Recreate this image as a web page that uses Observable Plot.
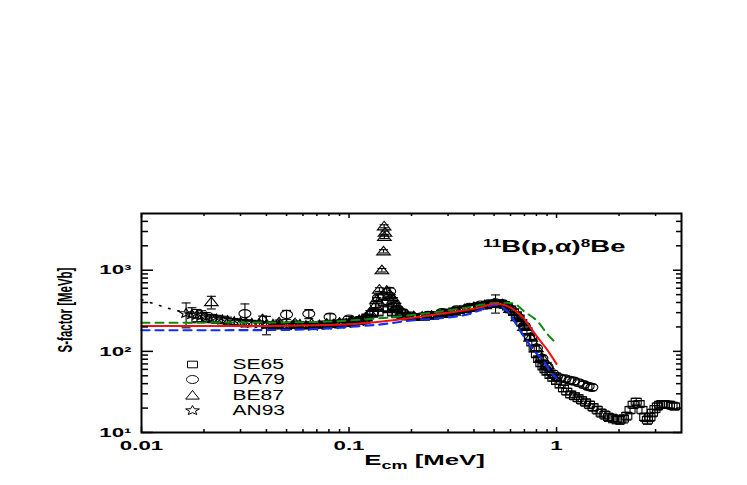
<!DOCTYPE html>
<html>
<head>
<meta charset="utf-8">
<script src="https://cdn.jsdelivr.net/npm/d3@7"></script>
<script src="https://cdn.jsdelivr.net/npm/@observablehq/plot@0.6"></script>
<style>
  html, body { margin: 0; padding: 0; background: #fff; }
  #chart { width: 747px; height: 485px; }
</style>
</head>
<body>
<div id="chart"></div>
<script>
// ---------------- DATA ----------------
const se65E = [0.040,0.045,0.050,0.056,0.062,0.068,0.075,0.082,0.090,0.098,
  0.106,0.114,0.122,0.130,0.138,0.146,0.154,0.162,0.170,0.180,0.190,0.200,
  0.215,0.230,0.245,0.260,0.280,
  0.30,0.32,0.34,0.36,0.38,0.40,0.42,0.44,0.46,0.48,0.50,0.52,0.54,0.56,0.58,0.60,0.62,0.64,0.66,0.68,0.70,0.72,0.74,0.76,0.78,0.80,0.82,0.84,0.86,0.88,0.90,
  0.93,0.96,1.00,
  1.04,1.08,1.12,1.17,1.22,1.27,1.32,1.38,1.44,1.50,
  1.57,1.64,1.71,1.78,1.86,1.94,2.02,
  2.10,2.18,2.26,2.34,2.42,2.50,2.58,2.66,2.74,2.82,2.90,2.98,3.06,3.14,3.22,3.30,
  3.40,3.50,3.60,3.70];
const se65S = [212,208,205,210,207,212,215,220,222,228,
  235,245,262,290,300,340,330,300,285,275,268,265,
  265,270,275,282,292,
  302,312,322,332,342,350,358,366,374,382,388,392,388,375,355,330,305,280,255,225,200,178,150,128,108,92,80,71,65,60,56,
  51,47,43,
  39,35,32,29.5,28,26.5,25,23.5,22,20.5,
  19,17.5,16.5,15.5,15,14.5,14.3,
  14.8,16,19,22,24,22.5,19,15.5,14.3,15.5,17.5,19.5,21,22,22.5,22.5,
  22,22,21.5,21];
const se65Err = [15,15,15,15,15,15,15,15,15,15,
  16,17,18,20,21,24,23,21,20,19,19,19,
  19,19,19,20,20,
  21,22,22,23,24,24,25,25,26,26,27,27,27,26,25,23,21,20,18,16,14,12,11,9,8,7,6,5.5,5,4.5,4.2,
  4,3.8,3.5,
  3.4,3.2,3.0,2.8,2.7,2.6,2.5,2.4,2.3,2.2,
  2.1,2.0,1.9,1.8,1.8,1.7,1.7,
  1.7,1.8,2.0,2.2,2.4,2.2,2.0,1.8,1.7,1.8,1.9,2.0,2.1,2.1,2.2,2.2,
  2.2,2.2,2.1,2.1];

// DA79 (circles)
const da79E = [0.0315,0.050,0.064,0.081,0.100,0.118,0.130,0.135,0.1386,0.146,
  0.154,0.157,0.163,0.170,0.180,0.200,0.240,0.280,0.330,0.380,
  0.430,0.470,0.508,0.550,0.600,0.650,0.700,0.750,0.800,0.850,
  0.900,0.960,1.000,1.040,1.100,1.160,1.210,1.280,1.350,1.420,1.480];
const da79S = [292,284,290,265,250,240,300,380,457,478,
  414,551,360,330,300,272,278,300,325,350,
  372,385,396,385,330,265,205,150,110,82,
  65,53,49,47,46,44,43,41,39,37,36];
const da79Err = [92,36,37,25,20,20,25,35,40,40,
  35,55,30,25,22,20,20,20,22,24,
  26,28,100,28,25,20,16,12,9,7,
  6,5,5,4,4,4,4,3.5,3.5,3.3,3.2];

// BE87 (triangles)
const be87E = [0.0217,0.0383,0.046,0.055,0.066,0.078,0.090,0.102,0.112,0.120,
  0.126,0.134,0.136,0.140,0.1440,0.1466,0.1480,0.1490,0.1476,0.1520,
  0.156,0.160,0.164,0.167,0.170,0.180,0.190,0.205,0.225,0.250,
  0.280,0.320,0.360,0.400,0.450,0.500,0.550,0.600,0.650,0.700,
  0.750,0.800,0.850,0.900];
const be87S = [405,250,228,222,218,220,226,232,245,262,
  300,366,434,578,1000,1710,2580,2900,3480,560,
  500,470,434,343,366,310,285,272,268,276,
  290,310,332,352,372,388,382,335,265,200,
  148,110,84,68];
const be87Err = [72,22,15,14,14,14,15,15,16,17,
  18,20,25,30,50,80,120,130,150,30,
  28,28,25,20,22,20,18,18,17,17,
  18,19,20,22,23,24,24,22,18,14,
  10,8,6,5];

// AN93 (stars)
const an93E = [0.0164,0.0175,0.0185,0.0195,0.0205,0.0218,0.0230,0.0245,0.0260,0.0280,
  0.0300,0.0320,0.0340,0.0370,0.0400,0.0430,0.0460,0.0500,0.0540,0.0580,
  0.0620,0.0670,0.0720,0.0780,0.0840,0.0900,0.0970,0.1040,0.1120,0.1200];
const an93S = [295,285,280,275,265,255,250,245,240,232,
  228,225,222,220,215,215,212,210,212,215,
  208,205,210,212,215,218,222,228,235,245];
const an93Err = [100,60,48,42,36,30,28,26,24,22,
  20,20,19,18,55,18,17,17,17,17,
  17,16,16,16,16,16,16,16,16,16];

// Model curves
const redE = [0.01,0.02,0.04,0.06,0.08,0.10,0.14,0.20,0.25,0.30,0.38,0.44,0.50,0.55,0.60,0.65,0.70,0.75,0.80,0.90,1.00];
const redS = [205,205,206,208,212,216,232,258,280,300,327,355,385,378,345,300,250,195,155,105,70];
const greenE = [0.01,0.02,0.04,0.06,0.08,0.10,0.14,0.20,0.30,0.38,0.45,0.50,0.55,0.62,0.70,0.82,0.90,1.00];
const greenS = [226,226,227,229,233,240,255,280,320,350,380,395,398,389,310,226,165,125];
const blueE = [0.01,0.02,0.04,0.06,0.08,0.10,0.14,0.20,0.30,0.38,0.45,0.50,0.53,0.56,0.59,0.63,0.67,0.72,0.77,0.87,0.93,1.00];
const blueS = [182,182,183,186,192,200,214,240,262,289,340,372,368,335,298,230,176,135,105,75,57,47];
const dotE = [0.010,0.011,0.0125,0.0145,0.018,0.022,0.028,0.035,0.045,0.060];
const dotS = [435,400,360,322,290,268,248,235,225,216];

// Axis ticks and labels
const xMajor = [0.01, 0.1, 1];
const xMajorLabels = ["0.01", "0.1", "1"];
const xMinor = [0.02,0.03,0.04,0.05,0.06,0.07,0.08,0.09,0.2,0.3,0.4,0.5,0.6,0.7,0.8,0.9,2,3];
const yMajor = [10, 100, 1000];
const yMajorLabels = ["10\u00B9", "10\u00B2", "10\u00B3"];
const yMinor = [20,30,40,50,60,70,80,90,200,300,400,500,600,700,800,900,2000,3000,4000];
const legendNames = ["SE65", "DA79", "BE87", "AN93"];
const xTitle = "Ecm [MeV]";
const yTitle = "S-factor [MeVb]";
const reactionTitle = "11B(p,\u03B1)8Be";

// ---------------- LAYOUT / STYLE ----------------
const W = 747, H = 485, ML = 141, MR = 66, MT = 213, MB = 53;
const IW = W - ML - MR, IH = H - MT - MB;
const STRETCH = 1.72;
const FONT = "'Liberation Sans', Arial, Helvetica, sans-serif";

// Horizontally stretched marker shapes (the reference is a stretched image)
const symSquare = { draw(c) { c.rect(-5, -3.3, 10, 6.6); } };
const symEllipse = { draw(c) {
  const rx = 6, ry = 4, k = 0.5523;
  c.moveTo(rx, 0);
  c.bezierCurveTo(rx, ry * k, rx * k, ry, 0, ry);
  c.bezierCurveTo(-rx * k, ry, -rx, ry * k, -rx, 0);
  c.bezierCurveTo(-rx, -ry * k, -rx * k, -ry, 0, -ry);
  c.bezierCurveTo(rx * k, -ry, rx, -ry * k, rx, 0);
  c.closePath();
} };
const symTriangle = { draw(c) { c.moveTo(0, -5); c.lineTo(6.8, 3.6); c.lineTo(-6.8, 3.6); c.closePath(); } };
const symStar = { draw(c) {
  const ro = 5, ri = 2.2, sx = 1.45;
  for (let i = 0; i < 10; i++) {
    const r = i % 2 ? ri : ro;
    const a = -Math.PI / 2 + i * Math.PI / 5;
    const px = Math.cos(a) * r * sx, py = Math.sin(a) * r;
    if (i === 0) c.moveTo(px, py); else c.lineTo(px, py);
  }
  c.closePath();
} };
const symCap = { draw(c) { c.moveTo(-4.5, 0); c.lineTo(4.5, 0); } };

const rows = (E, S, Err) => E.map((e, i) => ({E: e, S: S[i], err: Err ? Err[i] : 0}));
const se65 = rows(se65E, se65S, se65Err);
const da79 = rows(da79E, da79S, da79Err);
const be87 = rows(be87E, be87S, be87Err);
const an93 = rows(an93E, an93S, an93Err);
const red = rows(redE, redS), green = rows(greenE, greenS), blue = rows(blueE, blueS), dotted = rows(dotE, dotS);

const datasets = [
  {data: se65, sym: symSquare},
  {data: da79, sym: symEllipse},
  {data: be87, sym: symTriangle},
  {data: an93, sym: symStar}
];

const marks = [];
for (const ds of datasets) {
  marks.push(Plot.ruleX(ds.data, {x: "E", y1: d => d.S - d.err, y2: d => d.S + d.err, stroke: "black", strokeWidth: 1.1}));
  marks.push(Plot.dot(ds.data, {x: "E", y: d => d.S + d.err, symbol: symCap, r: 3, stroke: "black", strokeWidth: 1.1}));
  marks.push(Plot.dot(ds.data, {x: "E", y: d => d.S - d.err, symbol: symCap, r: 3, stroke: "black", strokeWidth: 1.1}));
}
for (const ds of datasets) {
  marks.push(Plot.dot(ds.data, {x: "E", y: "S", symbol: ds.sym, r: 3, fill: "none", stroke: "black", strokeWidth: 1.1}));
}
marks.push(Plot.line(dotted, {x: "E", y: "S", stroke: "black", strokeWidth: 1.6, strokeDasharray: "1.5,8", strokeLinecap: "round", curve: "monotone-x"}));
marks.push(Plot.line(green, {x: "E", y: "S", stroke: "#0a8a0a", strokeWidth: 2, strokeDasharray: "8,6", curve: "monotone-x"}));
marks.push(Plot.line(blue, {x: "E", y: "S", stroke: "#1230f0", strokeWidth: 2.2, strokeDasharray: "8,6", curve: "monotone-x"}));
marks.push(Plot.line(red, {x: "E", y: "S", stroke: "#f01010", strokeWidth: 2, curve: "monotone-x"}));

// frame and inward ticks on all four sides
marks.push(Plot.frame({stroke: "black", strokeWidth: 2}));
marks.push(Plot.tickX(xMajor, {x: d => d, insetTop: IH - 5, stroke: "black", strokeWidth: 1.5}));
marks.push(Plot.tickX(xMinor, {x: d => d, insetTop: IH - 3, stroke: "black", strokeWidth: 1.5}));
marks.push(Plot.tickX(xMajor, {x: d => d, insetBottom: IH - 5, stroke: "black", strokeWidth: 1.5}));
marks.push(Plot.tickX(xMinor, {x: d => d, insetBottom: IH - 3, stroke: "black", strokeWidth: 1.5}));
marks.push(Plot.tickY(yMajor, {y: d => d, insetRight: IW - 12, stroke: "black", strokeWidth: 1.5}));
marks.push(Plot.tickY(yMinor, {y: d => d, insetRight: IW - 7, stroke: "black", strokeWidth: 1.5}));
marks.push(Plot.tickY(yMajor, {y: d => d, insetLeft: IW - 8, stroke: "black", strokeWidth: 1.5}));
marks.push(Plot.tickY(yMinor, {y: d => d, insetLeft: IW - 5, stroke: "black", strokeWidth: 1.5}));

// tick labels
marks.push(Plot.text(xMajor, {x: d => d, text: (d, i) => xMajorLabels[i], frameAnchor: "bottom", lineAnchor: "middle", textAnchor: "middle", dy: 13, fontSize: 13, fontWeight: "bold", fill: "black"}));
marks.push(Plot.text(yMajor, {y: d => d, text: (d, i) => yMajorLabels[i], frameAnchor: "left", lineAnchor: "middle", textAnchor: "end", dx: -10, fontSize: 13, fontWeight: "bold", fill: "black"}));

// axis titles
marks.push(Plot.text([xTitle], {text: d => d, frameAnchor: "bottom", lineAnchor: "middle", textAnchor: "middle", dx: 13, dy: 28, fontSize: 15, fontWeight: "bold", fill: "black"}));
marks.push(Plot.text([yTitle], {text: d => d, frameAnchor: "left", lineAnchor: "middle", textAnchor: "middle", rotate: -90, dx: -76, dy: -13, fontSize: 11.5, fontWeight: "bold", fill: "black"}));

// reaction label
marks.push(Plot.text([reactionTitle], {text: d => d, frameAnchor: "top-right", lineAnchor: "middle", textAnchor: "end", dx: -56, dy: 33, fontSize: 16, fontWeight: "bold", fill: "black"}));

// legend
const legendSyms = [symSquare, symEllipse, symTriangle, symStar];
const legendDy = [-68, -53, -37, -22];
legendNames.forEach((name, i) => {
  marks.push(Plot.dot([name], {frameAnchor: "bottom-left", dx: 51, dy: legendDy[i], symbol: legendSyms[i], r: 3, fill: "none", stroke: "black", strokeWidth: 1}));
  marks.push(Plot.text([name], {text: d => d, frameAnchor: "bottom-left", lineAnchor: "middle", textAnchor: "start", dx: 91, dy: legendDy[i], fontSize: 14, fill: "black"}));
});

const svg = Plot.plot({
  width: W, height: H,
  marginLeft: ML, marginRight: MR, marginTop: MT, marginBottom: MB,
  x: {type: "log", domain: [0.01, 4], axis: null},
  y: {type: "log", domain: [10, 5000], axis: null},
  style: {fontFamily: FONT, background: "white", color: "black"},
  marks
});
document.getElementById("chart").append(svg);

// Post-process text: stretch horizontally like the reference, add sub/superscripts
d3.select(svg).selectAll("text").each(function () {
  const el = d3.select(this);
  const t = this.textContent;
  const tr = el.attr("transform") || "";
  let sc;
  if (t === yTitle) sc = ` scale(1,${STRETCH})`;
  else if (legendNames.includes(t)) sc = " scale(1.5,1)";
  else sc = ` scale(${STRETCH},1)`;
  el.attr("transform", tr + sc);

  if (t === xTitle) {
    el.text(null);
    el.append("tspan").text("E");
    el.append("tspan").attr("font-size", 10.5).attr("dy", 4).text("cm");
    el.append("tspan").attr("dy", -4).text(" [MeV]");
  } else if (t === reactionTitle) {
    el.text(null);
    el.append("tspan").attr("font-size", 10).attr("dy", -5).text("11");
    el.append("tspan").attr("dy", 5).text("B(p,\u03B1)");
    el.append("tspan").attr("font-size", 10).attr("dy", -5).text("8");
    el.append("tspan").attr("dy", 5).text("Be");
  }
});
</script>
</body>
</html>
